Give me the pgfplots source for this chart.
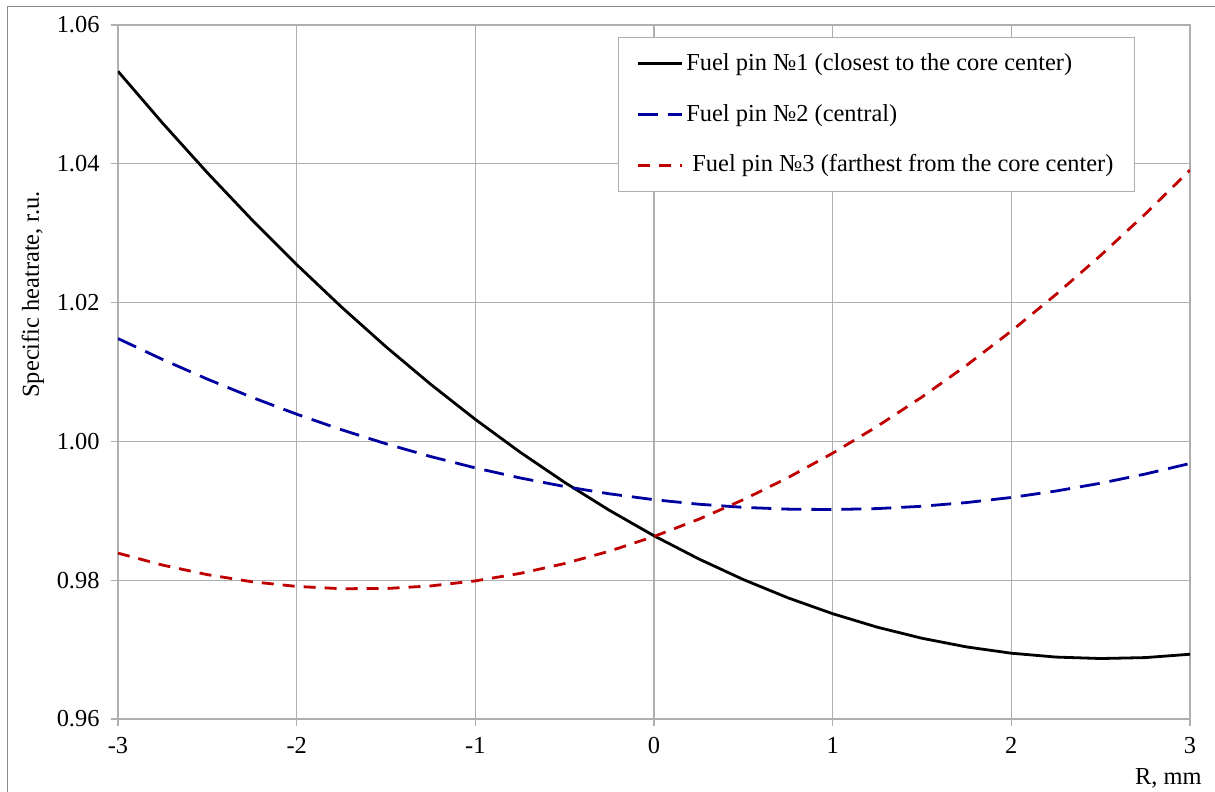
\documentclass[border=0pt]{standalone}
\usepackage{fontspec}
\setmainfont{Liberation Serif}
\usepackage{pgfplots}
\pgfplotsset{compat=1.18}
\definecolor{pinblue}{RGB}{0,0,160}
\definecolor{pinred}{RGB}{192,0,0}
\definecolor{gridgray}{RGB}{175,175,175}
\begin{document}
\fontsize{12.2pt}{14pt}\selectfont
\begin{tikzpicture}
\useasboundingbox (0,0) rectangle (607.5pt,396pt);
\draw[color={rgb,255:red,140;green,140;blue,140}, line width=0.6pt] (3.75pt,0) -- (3.75pt,392.75pt) -- (607.5pt,392.75pt);
\begin{axis}[
  at={(59pt,36.5pt)}, anchor=south west,
  scale only axis, width=536pt, height=347pt,
  xmin=-3, xmax=3, ymin=0.96, ymax=1.06,
  xtick={-3,-2,-1,0,1,2,3},
  ytick={0.96,0.98,1.00,1.02,1.04,1.06},
  /pgf/number format/assume math mode=true,
  grid=major,
  major grid style={gridgray, line width=0.6pt},
  axis line style={gridgray, line width=0.6pt},
  tick style={gridgray, line width=0.6pt},
  tick align=outside, major tick length=3.5pt,
  xtick pos=bottom, ytick pos=left,
  ticklabel style={font=\fontsize{12.2pt}{14pt}\selectfont},
  yticklabel style={xshift=-1.5pt, /pgf/number format/.cd, fixed, fixed zerofill, precision=2},
  xticklabel style={yshift=-1.5pt},
  xlabel={R, mm}, ylabel={Specific heatrate, r.u.},
  label style={font=\fontsize{12.2pt}{14pt}\selectfont},
  xlabel style={at={(axis description cs:1.0187,-0.085)}, anchor=east},
  ylabel style={at={(axis description cs:-0.0793,0.612)}, anchor=center},
  legend cell align=left,
  legend style={at={(axis description cs:0.9487,0.9827)}, anchor=north east,
    draw=gridgray, line width=0.6pt, row sep=12pt, inner xsep=9pt, inner ysep=6.5pt,
    font=\fontsize{12.2pt}{14pt}\selectfont,
    nodes={inner sep=1.5pt}},
  legend image code/.code={\draw[#1] (0pt,0pt) -- (22pt,0pt);},
]
\addplot[black, line width=1.4pt] coordinates {
(-3,1.05333) (-2.75,1.045848) (-2.5,1.038713) (-2.25,1.031923) (-2,1.02548)
(-1.75,1.019383) (-1.5,1.013633) (-1.25,1.008228) (-1,1.00317) (-0.75,0.998458)
(-0.5,0.994093) (-0.25,0.990073) (0,0.9864) (0.25,0.983073) (0.5,0.980093)
(0.75,0.977458) (1,0.97517) (1.25,0.973228) (1.5,0.971633) (1.75,0.970383)
(2,0.96948) (2.25,0.968923) (2.5,0.968713) (2.75,0.968848) (3,0.96933)};
\addlegendentry{Fuel pin №1 (closest to the core center)}
\addplot[pinblue, line width=1.4pt, dash pattern=on 10pt off 5pt] coordinates {
(-3,1.01482) (-2.75,1.011799) (-2.5,1.008975) (-2.25,1.006349) (-2,1.00392)
(-1.75,1.001689) (-1.5,0.999655) (-1.25,0.997819) (-1,0.99618) (-0.75,0.994739)
(-0.5,0.993495) (-0.25,0.992449) (0,0.9916) (0.25,0.990949) (0.5,0.990495)
(0.75,0.990239) (1,0.99018) (1.25,0.990319) (1.5,0.990655) (1.75,0.991189)
(2,0.99192) (2.25,0.992849) (2.5,0.993975) (2.75,0.995299) (3,0.99682)};
\addlegendentry{Fuel pin №2 (central)}
\addplot[pinred, line width=1.4pt, dash pattern=on 6pt off 4.5pt] coordinates {
(-3,0.9839) (-2.75,0.982175) (-2.5,0.9808) (-2.25,0.979775) (-2,0.9791)
(-1.75,0.978775) (-1.5,0.9788) (-1.25,0.979175) (-1,0.9799) (-0.75,0.980975)
(-0.5,0.9824) (-0.25,0.984175) (0,0.9863) (0.25,0.988775) (0.5,0.9916)
(0.75,0.994775) (1,0.9983) (1.25,1.002175) (1.5,1.0064) (1.75,1.010975)
(2,1.0159) (2.25,1.021175) (2.5,1.0268) (2.75,1.032775) (3,1.0391)};
\addlegendentry{\ Fuel pin №3 (farthest from the core center)}
\end{axis}
\end{tikzpicture}
\end{document}
